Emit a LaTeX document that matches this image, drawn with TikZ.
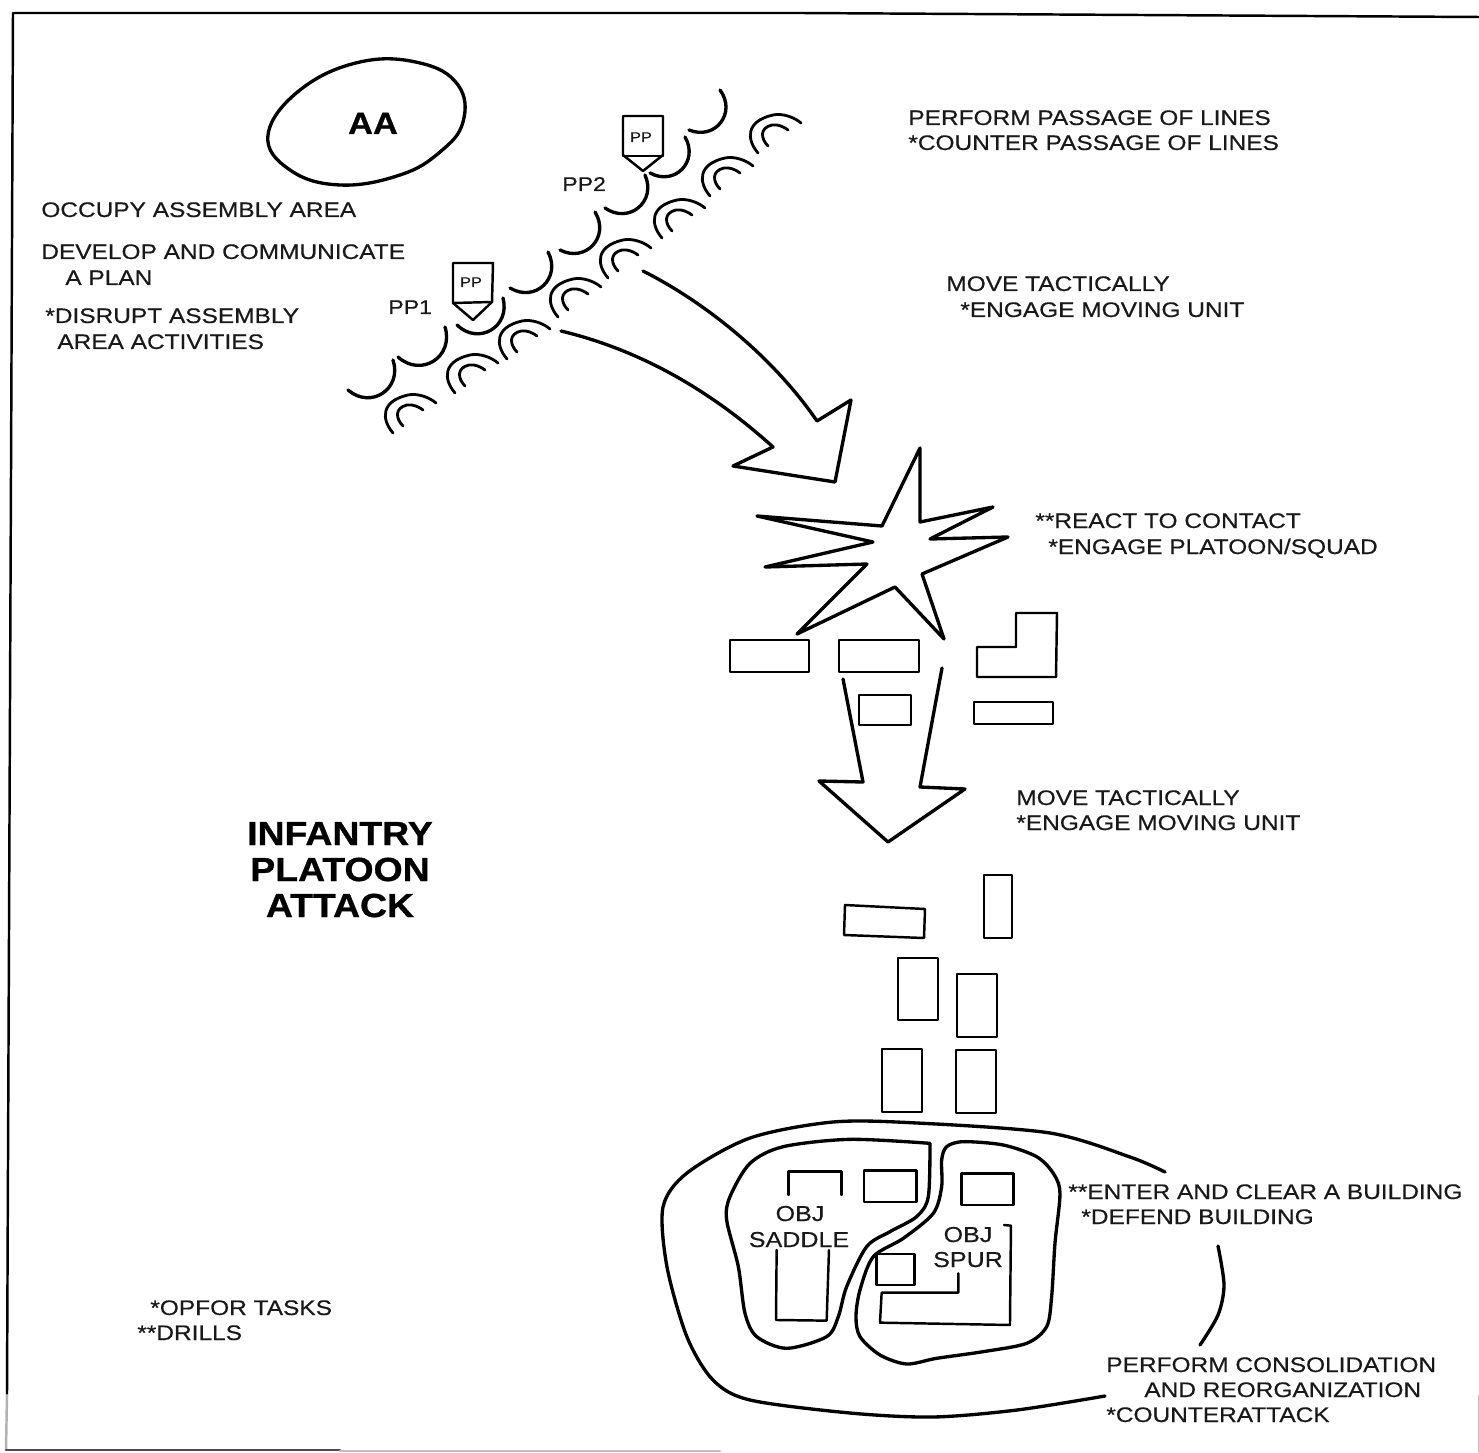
\documentclass[tikz,border=0pt]{standalone}
\usepackage{fontspec}
\setmainfont[FakeStretch=1.16,FakeBold=0.5]{Liberation Sans}
\newfontfamily\titlefont[FakeStretch=1.12,FakeBold=0.8]{Liberation Sans Bold}
\tikzset{
	lab/.style={anchor=base west,inner sep=0pt,font=\fontsize{12}{14}\selectfont,text=black!90},
	cen/.style={anchor=base,inner sep=0pt,font=\fontsize{12.3}{14}\selectfont,text=black!90},
	big/.style={anchor=base,inner sep=0pt,font=\fontsize{19}{22}\selectfont\titlefont},
	thick line/.style={line width=1.9pt},
	bld/.style={line width=1.4pt},
	coil line/.style={line width=1.6pt},
}
\def\wire(#1,#2)(#3,#4){\draw[thick line] (#1,#2) .. controls ({#1+0.15*(#3-#1)-0.54*(#4-#2)},{#2+0.15*(#4-#2)+0.54*(#3-#1)}) and ({#1+0.85*(#3-#1)-0.54*(#4-#2)},{#2+0.85*(#4-#2)+0.54*(#3-#1)}) .. (#3,#4);}
\def\coil(#1,#2){\begin{scope}[shift={(#1,#2)}]
		\draw[coil line] (0,0) .. controls (-12,-14) and (-12,-32) .. (15,-38) .. controls (24,-40) and (36,-36) .. (43,-30);
		\draw[coil line] (10,-7) .. controls (3,-14) and (1,-25) .. (14,-28) .. controls (20,-29) and (26,-26) .. (30,-23);
	\end{scope}}
\begin{document}
\begin{tikzpicture}[x=0.02cm,y=-0.02cm,line join=round,line cap=round]
		\useasboundingbox (0,0) rectangle (1479,1452);
		% page frame
		\draw[bld] (1479,17)--(800,13)--(13,13)--(7,1395);
		\draw[bld,black!30] (7,1395)--(6,1450);
		\draw[bld,black!70] (6,1450)--(340,1450);
		\draw[bld,black!25] (340,1451)--(720,1451);
		\draw[black!25] (1478,1395)--(1478,1452);
		% assembly area
		\draw[thick line,smooth cycle,tension=0.7] plot coordinates {(268,135) (300,90) (360,62) (420,63) (458,85) (463,122) (440,152) (400,175) (340,185) (290,170)};
		\node[big,font=\fontsize{17.5}{20}\selectfont\titlefont] (aa) at (373,134) {AA};
		% wire obstacle
		\wire(348,390)(393,360)
		\wire(398,357)(445,327)
		\wire(457,325)(503,298)
		\wire(510,288)(548,252)
		\wire(560,250)(595,212)
		\wire(605,208)(645,175)
		\wire(650,173)(685,137)
		\wire(689,130)(720,90)
		\coil(393,433)
		\coil(455,393)
		\coil(507,359)
		\coil(558,317)
		\coil(608,278)
		\coil(662,238)
		\coil(710,196)
		\coil(758,153)
		% passage points
		\draw[bld,fill=white] (453,263)--(493,263)--(492,302)--(473,320)--(453,303)--cycle;
		\draw[bld] (453,303)--(492,302);
		\draw[bld,fill=white] (623,116)--(663,116)--(663,155)--(643,171)--(623,155)--cycle;
		\draw[bld] (623,156)--(663,156);
		\node[cen,font=\fontsize{8}{10}\selectfont] (pp1mark) at (471,287) {PP};
		\node[cen,font=\fontsize{8}{10}\selectfont] (pp2mark) at (641,142) {PP};
		\node[lab,font=\fontsize{11.3}{14}\selectfont] (pp1) at (388,314) {PP1};
		\node[lab,font=\fontsize{11.3}{14}\selectfont] (pp2) at (562,191) {PP2};
		% attack arrow
		\draw[thick line] (561,331) .. controls (640,350) and (710,390) .. (773,447)
			--(733,466)--(835,482)--(851,400)--(817,421) .. controls (775,360) and (710,305) .. (643,271);
		% contact burst
		\draw[thick line] (920,448)--(920,522)--(993,507)--(930,539)--(1008,537)--(922,574)--(944,639)--(895,587)--(797,634)--(867,564)--(765,567)--(873,542)--(757,516)--(882,526)--cycle;
		% buildings on the way
		\draw[bld] (730,640) rectangle (809,672);
		\draw[bld] (839,640) rectangle (919,672);
		\draw[bld] (977,647)--(1016,647)--(1016,613)--(1057,613)--(1056,677)--(977,677)--cycle;
		\draw[bld] (859,695) rectangle (911,725);
		\draw[bld] (974,702) rectangle (1053,724);
		% second arrow
		\draw[thick line] (843,679)--(863,782)--(819,781)--(888,842)--(965,789)--(920,787)--(942,668);
		% buildings before objective
		\draw[bld] (845,905)--(925,909)--(924,938)--(844,935)--cycle;
		\draw[bld] (984,875) rectangle (1012,938);
		\draw[bld] (898,958) rectangle (938,1020);
		\draw[bld] (957,974) rectangle (997,1037);
		\draw[bld] (882,1049) rectangle (922,1112);
		\draw[bld] (956,1050) rectangle (996,1113);
		% objective
		\draw[thick line,smooth] plot coordinates {(1165,1172) (1130,1157) (1050,1133) (917,1123) (833,1122) (750,1138) (687,1173) (663,1207) (667,1267) (687,1337) (713,1380) (750,1400) (850,1413) (933,1417) (1017,1410) (1105,1396)};
		\draw[thick line,smooth] plot coordinates {(1218,1246) (1224,1285) (1218,1315) (1200,1345)};
		\begin{scope}[shift={(650,1110)},scale=0.3333]
			\draw[thick line] plot[smooth] coordinates {(840,100) (600,88) (400,110) (300,160) (240,260) (230,330) (265,470) (285,610) (320,680) (410,715) (530,680) (565,620) (590,530) (650,410) (720,365) (800,320) (835,260) (840,100)};
			\draw[thick line,smooth cycle] plot coordinates {(875,150) (890,110) (940,95) (1060,105) (1160,140) (1210,190) (1230,250) (1215,400) (1205,560) (1190,650) (1130,700) (1000,725) (860,745) (770,762) (690,735) (630,680) (618,620) (630,540) (670,440) (760,385) (850,310) (875,230)};
			\draw[bld] (415,255)--(415,185)--(575,185)--(575,255);
			\draw[bld] (380,420)--(378,630)--(530,632)--(537,420);
			\draw[bld] (642,182) rectangle (800,276);
			\draw[bld] (680,432) rectangle (793,525);
			\draw[bld] (935,190) rectangle (1090,285);
			\draw[bld] (925,490)--(925,548)--(695,548)--(690,638)--(1080,645)--(1083,347)--(1062,345);
		\end{scope}
		\node[cen] (obja) at (800,1221) {OBJ};
		\node[cen] (saddle) at (799,1247) {SADDLE};
		\node[cen] (objb) at (968,1242) {OBJ};
		\node[cen] (spur) at (968,1267) {SPUR};
		% task texts
		\node[lab] (t1) at (41,217) {OCCUPY ASSEMBLY AREA};
		\node[lab] (t2) at (41,259) {DEVELOP AND COMMUNICATE};
		\node[lab] (t3) at (65,285) {A PLAN};
		\node[lab] (t4) at (45,323) {*DISRUPT ASSEMBLY};
		\node[lab] (t5) at (57,349) {AREA ACTIVITIES};
		\node[lab] (t6) at (908,125) {PERFORM PASSAGE OF LINES};
		\node[lab] (t7) at (908,150) {*COUNTER PASSAGE OF LINES};
		\node[lab] (t8) at (946,291) {MOVE TACTICALLY};
		\node[lab] (t9) at (960,317) {*ENGAGE MOVING UNIT};
		\node[lab] (t10) at (1035,528) {**REACT TO CONTACT};
		\node[lab] (t11) at (1048,554) {*ENGAGE PLATOON/SQUAD};
		\node[lab] (t12) at (1016,805) {MOVE TACTICALLY};
		\node[lab] (t13) at (1016,830) {*ENGAGE MOVING UNIT};
		\node[lab] (t14) at (1068,1199) {**ENTER AND CLEAR A BUILDING};
		\node[lab] (t15) at (1081,1224) {*DEFEND BUILDING};
		\node[lab] (t16) at (1106,1372) {PERFORM CONSOLIDATION};
		\node[lab] (t17) at (1144,1397) {AND REORGANIZATION};
		\node[lab] (t18) at (1106,1422) {*COUNTERATTACK};
		\node[lab] (t19) at (150,1315) {*OPFOR TASKS};
		\node[lab] (t20) at (137,1340) {**DRILLS};
		\node[big] (title1) at (340,845) {INFANTRY};
		\node[big] (title2) at (340,881) {PLATOON};
		\node[big] (title3) at (340,917) {ATTACK};
		\end{tikzpicture}
\end{document}
